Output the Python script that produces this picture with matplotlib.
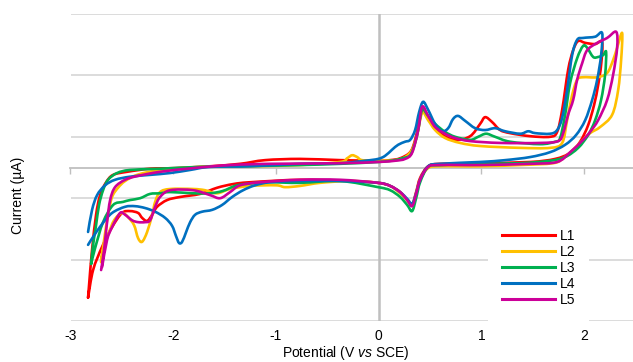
import matplotlib
matplotlib.use("Agg")
import matplotlib.pyplot as plt
import matplotlib.transforms as mtransforms
from matplotlib.path import Path
from matplotlib.patches import PathPatch
from matplotlib.lines import Line2D
import numpy as np

plt.rcParams['font.family'] = ['Liberation Sans', 'DejaVu Sans']
plt.rcParams['mathtext.fontset'] = 'custom'
plt.rcParams['mathtext.rm'] = 'Liberation Sans'
plt.rcParams['mathtext.it'] = 'Liberation Sans:italic'

# ---- data: potential (V vs SCE) and current (uA), each loop traced in order ----
L1_E = [-2.829, -2.819, -2.790, -2.751, -2.712, -2.653, -2.585, -2.449, -2.225, -1.982,
        -1.641, -1.349, -1.105, -0.764, -0.375, -0.005, 0.112, 0.209, 0.307, 0.355,
        0.404, 0.433, 0.501, 0.599, 0.745, 0.891, 0.988, 1.037, 1.105, 1.183,
        1.280, 1.475, 1.670, 1.738, 1.787, 1.845, 1.894, 1.943, 2.011, 2.108,
        2.176, 2.166, 2.137, 2.098, 2.040, 1.962, 1.865, 1.719, 1.475, 0.988,
        0.599, 0.482, 0.404, 0.365, 0.326, 0.278, 0.209, 0.112, -0.005, -0.278,
        -0.764, -1.251, -1.417, -1.573, -1.738, -1.933, -2.059, -2.157, -2.205, -2.254,
        -2.303, -2.342, -2.420, -2.498, -2.595, -2.692, -2.780, -2.829]
L1_I = [-21.2, -19.1, -13.4, -7.7, -4.5, -2.4, -1.2, -0.7, -0.2, -0.1,
        0.2, 0.6, 1.2, 1.4, 1.2, 1.1, 1.2, 1.5, 2.5, 4.5,
        8.1, 9.4, 7.7, 5.6, 4.5, 5.1, 7.1, 8.2, 7.4, 6.1,
        5.6, 5.1, 5.0, 5.8, 9.4, 15.9, 19.1, 20.6, 20.3, 20.1,
        20.4, 16.7, 13.4, 10.2, 6.9, 4.2, 2.4, 1.4, 0.9, 0.7,
        0.6, 0.2, -1.7, -4.0, -6.1, -5.3, -4.0, -3.0, -2.5, -2.2,
        -2.0, -2.4, -2.7, -3.3, -4.3, -4.8, -5.3, -6.4, -7.7, -8.7,
        -8.2, -7.4, -7.1, -7.4, -9.7, -12.9, -16.7, -21.2]

L2_E = [-2.702, -2.673, -2.634, -2.595, -2.537, -2.468, -2.351, -2.128, -1.738, -1.251,
        -0.764, -0.375, -0.307, -0.258, -0.209, -0.161, -0.005, 0.161, 0.258, 0.326,
        0.375, 0.424, 0.482, 0.550, 0.647, 0.794, 0.988, 1.378, 1.670, 1.787,
        1.835, 1.884, 1.933, 1.991, 2.128, 2.225, 2.283, 2.322, 2.371, 2.361,
        2.332, 2.274, 2.157, 2.059, 1.991, 1.894, 1.797, 1.699, 1.378, 0.988,
        0.599, 0.482, 0.404, 0.365, 0.326, 0.278, 0.209, 0.112, -0.005, -0.278,
        -0.570, -0.764, -0.910, -0.998, -1.251, -1.446, -1.573, -1.690, -1.806, -2.030,
        -2.128, -2.176, -2.205, -2.254, -2.303, -2.342, -2.381, -2.439, -2.498, -2.576,
        -2.634, -2.683, -2.702]
L2_I = [-15.4, -11.8, -7.7, -4.8, -3.3, -2.2, -1.2, -0.4, 0.1, 0.2,
        0.4, 0.9, 1.5, 2.0, 1.7, 1.2, 1.1, 1.2, 1.7, 2.9,
        5.3, 8.9, 7.7, 6.1, 4.8, 4.0, 3.5, 3.2, 3.2, 4.0,
        7.7, 11.8, 14.3, 14.7, 14.7, 15.4, 17.5, 19.5, 21.9, 17.5,
        12.6, 8.6, 6.6, 5.6, 4.5, 2.9, 1.5, 0.7, 0.4, 0.2,
        0.2, -0.1, -2.0, -4.2, -6.1, -5.3, -4.2, -3.0, -2.5, -2.2,
        -2.5, -3.0, -3.2, -2.9, -3.0, -3.5, -4.2, -3.7, -3.5, -3.5,
        -4.0, -5.6, -7.7, -10.5, -12.1, -11.5, -9.4, -8.1, -7.4, -8.6,
        -11.0, -13.4, -15.4]

L3_E = [-2.799, -2.780, -2.751, -2.722, -2.683, -2.634, -2.546, -2.420, -2.128, -1.738,
        -1.349, -0.764, -0.375, -0.005, 0.161, 0.229, 0.307, 0.355, 0.385, 0.424,
        0.482, 0.550, 0.647, 0.745, 0.891, 0.969, 1.047, 1.134, 1.280, 1.573,
        1.719, 1.767, 1.816, 1.865, 1.933, 1.991, 2.030, 2.089, 2.137, 2.186,
        2.215, 2.205, 2.166, 2.108, 2.040, 1.943, 1.816, 1.670, 1.378, 0.988,
        0.599, 0.482, 0.404, 0.365, 0.326, 0.278, 0.209, 0.112, -0.005, -0.375,
        -0.764, -1.056, -1.183, -1.378, -1.514, -1.641, -1.806, -2.030, -2.128, -2.225,
        -2.322, -2.420, -2.488, -2.585, -2.683, -2.760, -2.799]
L3_I = [-15.7, -12.6, -9.4, -6.1, -3.7, -2.0, -0.9, -0.4, -0.2, 0.1,
        0.2, 0.4, 0.6, 0.9, 1.2, 1.5, 2.0, 4.0, 6.1, 9.4,
        8.4, 7.1, 5.8, 5.0, 4.5, 5.0, 5.5, 5.0, 4.2, 3.8,
        4.2, 4.8, 8.6, 13.8, 17.8, 19.8, 19.5, 18.0, 18.0, 18.3,
        18.8, 15.1, 11.0, 7.7, 5.3, 3.2, 1.7, 1.1, 0.7, 0.6,
        0.4, 0.1, -2.4, -5.0, -7.1, -6.1, -4.8, -3.7, -3.2, -2.2,
        -2.5, -2.4, -2.5, -2.9, -3.8, -4.2, -4.2, -4.0, -4.2, -4.3,
        -5.0, -5.3, -5.6, -6.1, -8.9, -13.1, -15.7]

L4_E = [-2.829, -2.790, -2.741, -2.663, -2.566, -2.420, -2.225, -2.030, -1.835, -1.641,
        -1.251, -0.764, -0.375, -0.131, -0.005, 0.063, 0.131, 0.190, 0.258, 0.307,
        0.355, 0.394, 0.433, 0.482, 0.550, 0.618, 0.677, 0.725, 0.774, 0.842,
        0.940, 1.037, 1.134, 1.232, 1.378, 1.456, 1.524, 1.670, 1.738, 1.787,
        1.835, 1.884, 1.933, 1.991, 2.108, 2.176, 2.166, 2.128, 2.079, 2.011,
        1.923, 1.816, 1.670, 1.475, 1.232, 0.988, 0.599, 0.482, 0.404, 0.365,
        0.326, 0.278, 0.209, 0.112, -0.005, -0.375, -0.764, -1.056, -1.203, -1.319,
        -1.426, -1.524, -1.621, -1.719, -1.787, -1.835, -1.874, -1.913, -1.943, -1.972,
        -2.011, -2.079, -2.176, -2.274, -2.371, -2.468, -2.595, -2.692, -2.780, -2.829]
L4_I = [-10.5, -6.9, -4.5, -2.9, -2.0, -1.5, -1.2, -0.9, -0.4, 0.1,
        0.2, 0.6, 0.7, 1.1, 1.4, 1.9, 2.9, 3.7, 4.2, 4.5,
        6.1, 9.0, 10.7, 9.4, 7.1, 5.9, 6.4, 7.9, 8.4, 7.6,
        6.4, 6.1, 6.4, 5.9, 5.5, 5.9, 5.6, 5.5, 6.1, 8.1,
        12.6, 18.3, 20.8, 21.1, 21.3, 21.9, 18.3, 14.3, 11.0, 7.7,
        5.3, 3.7, 2.5, 1.7, 1.2, 0.9, 0.6, 0.2, -2.0, -4.2,
        -5.9, -5.1, -4.0, -3.0, -2.5, -2.2, -2.2, -2.4, -2.9, -3.7,
        -4.8, -6.1, -6.9, -7.2, -7.7, -8.9, -10.5, -12.1, -12.3, -11.2,
        -9.5, -8.2, -7.2, -6.6, -6.3, -6.4, -7.4, -9.2, -11.3, -12.6]

L5_E = [-2.702, -2.673, -2.644, -2.614, -2.566, -2.468, -2.351, -2.128, -1.806, -1.446,
        -1.056, -0.375, -0.005, 0.161, 0.258, 0.326, 0.385, 0.424, 0.482, 0.550,
        0.647, 0.745, 0.891, 1.183, 1.573, 1.748, 1.797, 1.845, 1.894, 1.933,
        1.982, 2.030, 2.128, 2.225, 2.313, 2.322, 2.283, 2.225, 2.137, 2.059,
        1.991, 1.865, 1.738, 1.475, 0.988, 0.599, 0.482, 0.404, 0.365, 0.326,
        0.278, 0.209, 0.112, -0.005, -0.375, -0.764, -1.154, -1.349, -1.446, -1.543,
        -1.641, -1.806, -2.030, -2.128, -2.176, -2.225, -2.274, -2.342, -2.400, -2.468,
        -2.517, -2.595, -2.644, -2.692]
L5_I = [-16.7, -13.4, -8.9, -5.3, -3.2, -2.0, -1.4, -0.7, -0.1, 0.4,
        0.6, 0.7, 0.9, 1.1, 1.4, 2.4, 6.1, 9.9, 8.4, 6.6,
        5.5, 4.8, 4.3, 4.0, 4.0, 4.3, 5.6, 8.6, 11.0, 14.3,
        17.0, 19.1, 20.3, 21.1, 22.1, 19.5, 15.1, 11.0, 7.7, 5.8,
        4.5, 2.5, 0.9, 0.6, 0.4, 0.4, 0.1, -2.0, -4.3, -6.3,
        -5.3, -4.0, -3.0, -2.5, -2.0, -2.0, -2.4, -2.9, -4.0, -5.0,
        -4.5, -3.7, -3.7, -4.8, -6.4, -8.6, -8.9, -8.9, -8.6, -7.7,
        -7.4, -9.7, -11.8, -16.2]

labels = ['L1', 'L2', 'L3', 'L4', 'L5']
colors = ['#FF0000', '#FFC000', '#00B050', '#0070C0', '#CC0099']
series = [(L1_E, L1_I), (L2_E, L2_I), (L3_E, L3_I), (L4_E, L4_I), (L5_E, L5_I)]

x_ticks = [-3, -2, -1, 0, 1, 2]
y_grid = [-25, -15, -5, 5, 15, 25]


def smooth_path(xs, ys):
    """Excel-style smoothed line: Bezier segments through every data point."""
    p = np.column_stack([xs, ys]).astype(float)
    n = len(p)
    verts = [p[0]]
    codes = [Path.MOVETO]
    for k in range(n - 1):
        p0 = p[k - 1] if k > 0 else p[k]
        p1 = p[k]
        p2 = p[k + 1]
        p3 = p[k + 2] if k + 2 < n else p[k + 1]
        c1 = p1 + (p2 - p0) / 6.0
        c2 = p2 - (p3 - p1) / 6.0
        verts += [c1, c2, p2]
        codes += [Path.CURVE4] * 3
    return Path(np.array(verts), codes)


W, H = 633, 362
fig = plt.figure(figsize=(W / 100, H / 100), dpi=100)
ax = fig.add_axes([70.5 / W, (H - 321) / H, 564.9 / W, 307 / H])
ax.set_xlim(-3, 2.5)
ax.set_ylim(-25, 25)

for y in y_grid:
    ax.axhline(y, color='#d9d9d9', lw=1.3, zorder=0)
ax.axvline(0, color='#bfbfbf', lw=1.8, zorder=0.5)

for s in ['top', 'right', 'left']:
    ax.spines[s].set_visible(False)
ax.spines['bottom'].set_position(('data', 0))
ax.spines['bottom'].set_color('#bfbfbf')
ax.spines['bottom'].set_linewidth(1.3)
ax.spines['bottom'].set_zorder(0.5)
ax.set_xticks(x_ticks)
ax.tick_params(axis='x', direction='out', length=4, width=1.0, color='#bfbfbf',
               labelbottom=False)
ax.set_yticks([])

tr = mtransforms.blended_transform_factory(ax.transData, ax.transAxes)
for v in x_ticks:
    ax.text(v, -0.048, f"{v}", transform=tr, ha='center', va='center',
            fontsize=10, color='#000000')

handles = []
for (e, i), c, lab in zip(series, colors, labels):
    patch = PathPatch(smooth_path(e, i), facecolor='none', edgecolor=c, lw=1.9,
                      joinstyle='round', capstyle='round', zorder=2)
    ax.add_patch(patch)
    handles.append(Line2D([], [], color=c, lw=2.2, label=lab))

fig.text(346 / W, 1 - 353 / H, r"Potential (V $\mathit{vs}$ SCE)", ha='center',
         va='center', fontsize=10)
fig.text(18 / W, 1 - 195 / H, "Current (µA)", rotation=90, ha='center',
         va='center', fontsize=10)

leg = ax.legend(handles=handles, loc='center', bbox_to_anchor=(538.5 / W, 1 - 268 / H),
                bbox_transform=fig.transFigure, frameon=True, fancybox=False,
                edgecolor='none', facecolor='white', framealpha=1.0,
                fontsize=10, handlelength=3.8, handletextpad=0.35,
                labelspacing=0.15, borderpad=1.0)

fig.savefig('out.png', dpi=100)
